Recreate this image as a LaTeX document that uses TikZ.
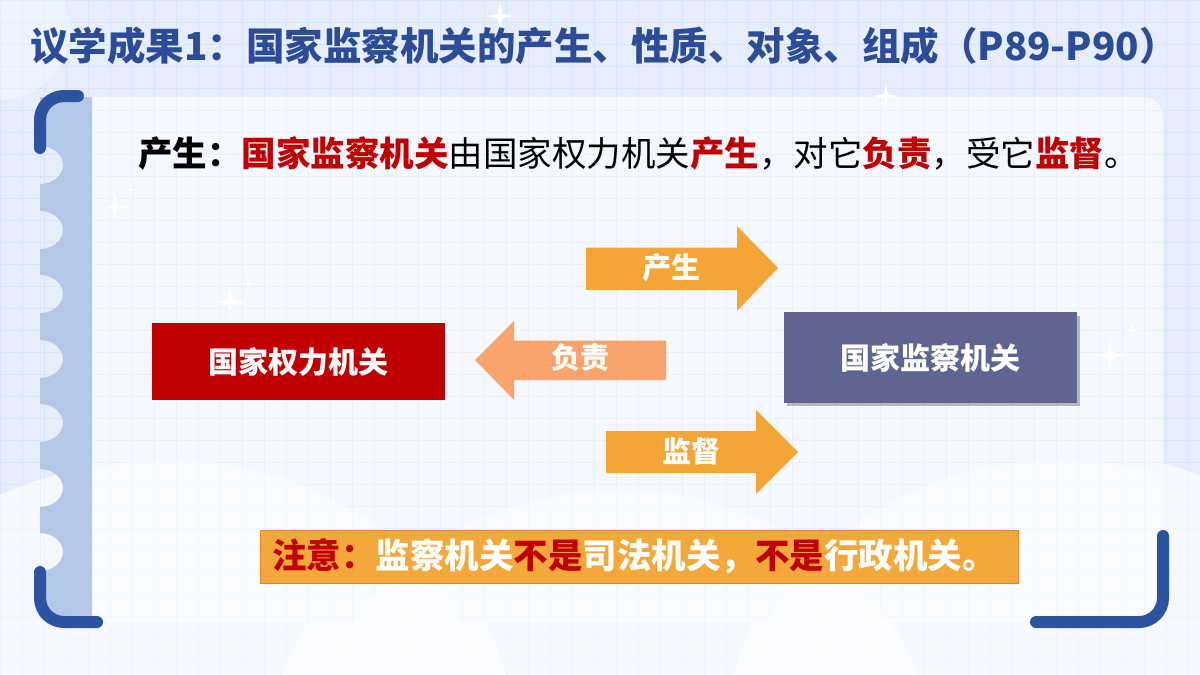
\documentclass[tikz,border=0pt]{standalone}
\usepackage{fontspec}
\setmainfont{Noto Sans CJK SC}
\definecolor{bgc}{HTML}{E6EEFB}
\definecolor{gridc}{HTML}{D9E4F8}
\definecolor{panelc}{HTML}{F5F8FE}
\definecolor{pgridc}{HTML}{EAF0FB}
\definecolor{stripc}{HTML}{B4C7E7}
\definecolor{bracketc}{HTML}{2B53A0}
\definecolor{titlec}{HTML}{2C4C98}
\definecolor{redc}{HTML}{C00000}
\definecolor{purplec}{HTML}{5E6591}
\definecolor{orangec}{HTML}{F3A535}
\definecolor{salmonc}{HTML}{F8A46C}
\definecolor{notec}{HTML}{F4A73A}
\definecolor{noteline}{HTML}{ED7D31}
\tikzset{
  bracket/.style={bracketc, line width=12pt, line cap=round},
  box/.style={inner sep=0pt, text=white, font=\fontsize{30pt}{30pt}\selectfont\bfseries},
  arrtext/.style={inner sep=0pt, text=white, font=\fontsize{29pt}{29pt}\selectfont\bfseries},
  sparkle/.pic={\fill[white] (0,-1) -- (0.16,-0.16) -- (1,0) -- (0.16,0.16) -- (0,1) -- (-0.16,0.16) -- (-1,0) -- (-0.16,-0.16) -- cycle;}
}
\begin{document}
\begin{tikzpicture}[x=1pt,y=-1pt]
\useasboundingbox (0,0) rectangle (1200,675);
% background
\fill[bgc] (0,0) rectangle (1200,675);
\foreach \i in {0,22,...,1200} \draw[gridc, line width=0.8pt] (\i,0) -- (\i,675);
\foreach \j in {0,22,...,675} \draw[gridc, line width=0.8pt] (0,\j) -- (1200,\j);
% clouds
\fill[white, opacity=0.35] (0,30) circle (70pt);
\fill[white, opacity=0.6] (170,720) ellipse (340pt and 260pt);
\fill[white, opacity=0.6] (600,740) ellipse (330pt and 250pt);
\fill[white, opacity=0.6] (1060,720) ellipse (330pt and 270pt);
% panel
\fill[panelc] (92,97) -- (1143,97) arc[start angle=90, end angle=0, radius=20pt] -- (1163,622) -- (92,622) -- cycle;
\begin{scope}
\clip (92,97) rectangle (1163,622);
\foreach \i in {0,22,...,1200} \draw[pgridc, line width=0.6pt] (\i,0) -- (\i,675);
\foreach \j in {0,22,...,675} \draw[pgridc, line width=0.6pt] (0,\j) -- (1200,\j);
\fill[white, opacity=0.45] (170,760) ellipse (330pt and 300pt);
\fill[white, opacity=0.45] (620,780) ellipse (320pt and 290pt);
\fill[white, opacity=0.45] (1060,760) ellipse (330pt and 300pt);
\end{scope}
% binding strip
\begin{scope}
\clip (40,97) rectangle (92,618);
\fill[stripc, even odd rule] (40,97) rectangle (92,618)
  foreach \y in {165,230,294,359,423,488,552} { (40,\y) ellipse (23pt and 19pt) };
\end{scope}
% brackets
\draw[bracket] (40,148) -- (40,120) arc[start angle=180, end angle=90, radius=24pt] -- (78,96);
\draw[bracket] (40,572) -- (40,598) arc[start angle=180, end angle=270, radius=24pt] -- (97,622);
\draw[bracket] (1163,536) -- (1163,598) arc[start angle=0, end angle=-90, radius=24pt] -- (1036,622);
% sparkles
\pic at (500,16) [scale=14] {sparkle};
\pic at (886,96) [scale=12] {sparkle};
\pic at (115,207) [scale=14] {sparkle};
\pic at (131,190) [scale=6] {sparkle};
\pic at (230,302) [scale=16] {sparkle};
\pic at (248,284) [scale=7] {sparkle};
\pic at (1110,355) [scale=18] {sparkle};
\pic at (1132,330) [scale=8] {sparkle};
% title
\node[anchor=west, inner sep=0pt, text=titlec, font=\fontsize{38.5pt}{38.5pt}\selectfont\bfseries] (title) at (30,46) {议学成果1：国家监察机关的产生、性质、对象、组成（P89-P90）};
% statement
\node[anchor=west, inner sep=0pt, font=\fontsize{34.5pt}{34.5pt}\selectfont] (stmt) at (138,153) {{\bfseries 产生：}{\bfseries\color{redc}国家监察机关}由国家权力机关{\bfseries\color{redc}产生}，对它{\bfseries\color{redc}负责}，受它{\bfseries\color{redc}监督}。};
% boxes
\fill[black, opacity=0.25] (787,316) rectangle (1080,406);
\node[box, fill=redc, minimum width=293pt, minimum height=77pt] (power) at (298.5,361.5) {国家权力机关};
\node[box, fill=purplec, minimum width=293pt, minimum height=91pt] (super) at (930.5,357.5) {国家监察机关};
% arrows
\fill[orangec] (586,247.5) -- (737,247.5) -- (737,226) -- (778,268) -- (737,311) -- (737,290) -- (586,290) -- cycle;
\node[arrtext] (gen) at (671,268) {产生};
\fill[salmonc] (666,340.5) -- (514,340.5) -- (514,321) -- (475,360) -- (514,400) -- (514,380) -- (666,380) -- cycle;
\node[arrtext] (resp) at (580,358) {负责};
\fill[orangec] (606,431) -- (756,431) -- (756,410) -- (798,452) -- (756,494) -- (756,473) -- (606,473) -- cycle;
\node[arrtext] (sup) at (691,451) {监督};
% note
\node[draw=noteline, line width=1pt, fill=notec, minimum width=758pt, minimum height=53pt, inner sep=0pt] (notebox) at (639,556.5) {};
\node[anchor=west, inner sep=0pt, text=white, font=\fontsize{34.5pt}{34.5pt}\selectfont\bfseries] (note) at (272,556) {{\color{redc}注意：}监察机关{\color{redc}不是}司法机关，{\color{redc}不是}行政机关。};
\end{tikzpicture}
\end{document}
